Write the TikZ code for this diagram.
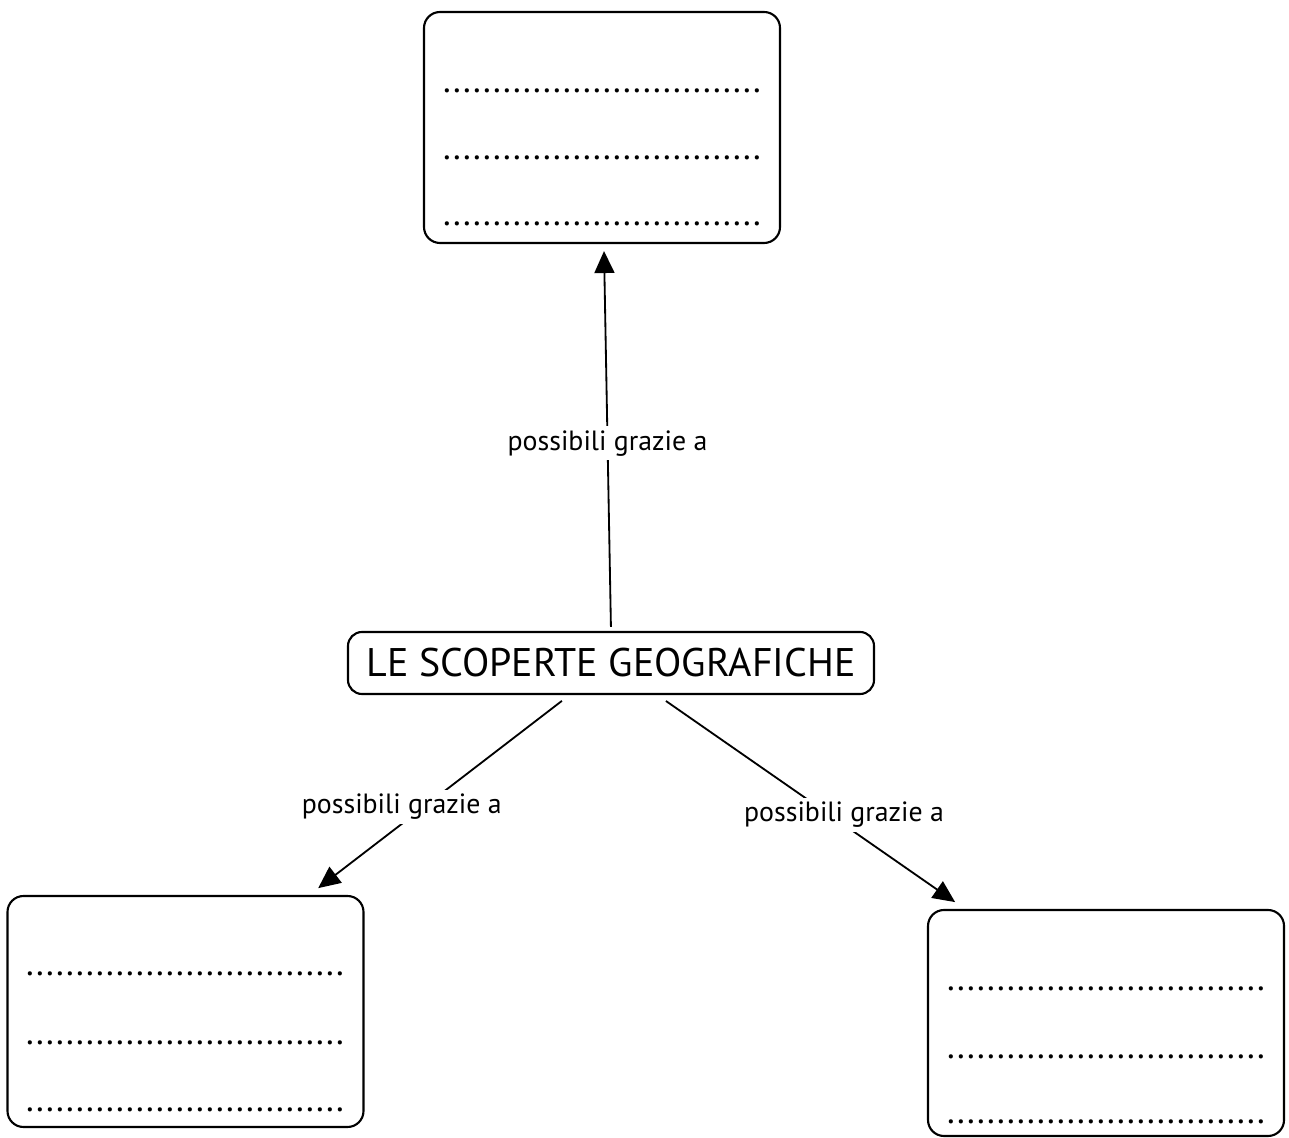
\documentclass[tikz,border=0pt]{standalone}
\usepackage{fontspec}
\setmainfont{PT Sans}
\usetikzlibrary{arrows.meta}
\newcommand{\dotrow}{................................}
\tikzset{
  blank/.style={draw,line width=1.5pt,rounded corners=0.4cm,minimum width=8.9cm,minimum height=5.775cm},
  title/.style={draw,line width=1.5pt,rounded corners=0.35cm,minimum width=13.15cm,minimum height=1.55cm,font=\fontsize{28.4}{32}\selectfont},
  dots/.style={inner sep=0pt,font=\fontsize{25.5}{28}\selectfont},
  link/.style={line width=1.3pt,-{Triangle[length=0.55cm,width=0.5cm]}},
  lbl/.style={fill=white,inner sep=3pt,font=\fontsize{19.8}{22}\selectfont}
}
\begin{document}
\begin{tikzpicture}
\useasboundingbox (0,0) rectangle (32.225,28.425);
% boxes
\node[blank] (top) at (15.05,25.2375) {};
\node[blank] (left) at (4.6375,3.1375) {};
\node[blank,minimum height=5.65cm] (right) at (27.65,2.85) {};
\node[title] (main) at (15.275,11.85) {LE SCOPERTE GEOGRAFICHE};
% lines to fill in
\node[dots] (top1) at (15.05,26.15) {\dotrow};
\node[dots] (top2) at (15.05,24.47) {\dotrow};
\node[dots] (top3) at (15.05,22.82) {\dotrow};
\node[dots] (left1) at (4.625,4.07) {\dotrow};
\node[dots] (left2) at (4.625,2.345) {\dotrow};
\node[dots] (left3) at (4.625,0.67) {\dotrow};
\node[dots] (right1) at (27.65,3.695) {\dotrow};
\node[dots] (right2) at (27.65,1.995) {\dotrow};
\node[dots] (right3) at (27.65,0.37) {\dotrow};
% links
\draw[link,shorten <=0.1cm,shorten >=0.175cm] (main.north) -- node[lbl,pos=0.485] {possibili grazie a} ([xshift=0.047cm]top.south);
\draw[link,shorten <=0.24cm,shorten >=0.28cm] ([xshift=-1.038cm]main.south) -- node[lbl,pos=0.56,xshift=-0.55cm] {possibili grazie a} ([xshift=3.095cm]left.north);
\draw[link,shorten <=0.26cm,shorten >=0.30cm] ([xshift=1.16cm]main.south) -- node[lbl,pos=0.56,xshift=0.36cm] {possibili grazie a} ([xshift=-3.526cm]right.north);
\end{tikzpicture}
\end{document}
